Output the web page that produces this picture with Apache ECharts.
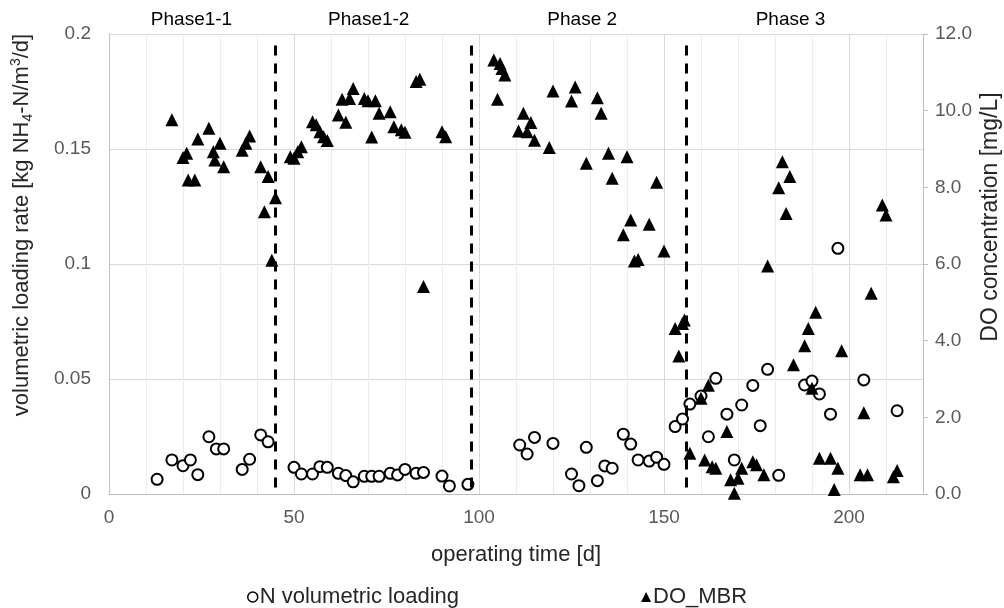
<!DOCTYPE html>
<html>
<head>
<meta charset="utf-8">
<script src="https://cdn.jsdelivr.net/npm/echarts@6/dist/echarts.min.js"></script>
<style>
html,body{margin:0;padding:0;background:#fff;}
#c{width:1004px;height:608px;}
</style>
</head>
<body>
<div id="c"></div>
<script>
// ---- data ----
const loadDays = [13,17,20,22,24,27,29,31,36,38,41,43,50,52,55,57,59,62,64,66,69,71,73,76,78,80,83,85,90,92,97,
  111,113,115,120,125,127,129,132,134,136,139,141,143,146,148,150,153,155,157,160,162,164,167,169,171,174,176,178,181,188,190,192,195,197,204,213];
const loadValues = [0.0064,0.0148,0.0123,0.0148,0.0084,0.0249,0.0196,0.0196,0.0107,0.0151,0.0257,0.0227,0.0116,0.0087,0.0087,0.0119,0.0116,0.0090,0.0080,0.0053,0.0077,0.0077,0.0077,0.0090,0.0083,0.0107,0.0090,0.0094,0.0078,0.0035,0.0042,
  0.0213,0.0174,0.0246,0.0220,0.0087,0.0036,0.0203,0.0058,0.0122,0.0112,0.0260,0.0217,0.0148,0.0143,0.0160,0.0129,0.0293,0.0326,0.0391,0.0426,0.0249,0.0503,0.0347,0.0148,0.0387,0.0472,0.0297,0.0542,0.0081,0.0474,0.0491,0.0435,0.0347,0.1068,0.0496,0.0362];
const doDays = [17,20,21,21.4,23.2,24,27,28.2,28.6,30,31,36,37,38,41,42,43,44,45,49,50,51,52,55,56,57,58,59,62,63,64,65,66,69,70,71,72,73,76,77,79,80,83,84,85,90,91,
  104,105,105.7,106.2,107,110.7,112,113,114,115,119,120,125,126,129,132,133,135,136,139,140,141,142,143,146,148,150,153,154,155,155.5,
  157,160,161,162,163,164,167,168,169,170,171,174,175,177,178,181,182,183,184,185,188,189,190,191,192,195,196,197,198,203,204,205,206,209,210,212,213];
const doValues = [9.76,8.78,8.89,8.19,8.19,9.26,9.54,8.93,8.71,9.15,8.54,8.97,9.15,9.34,8.54,7.36,8.28,6.10,7.73,8.80,8.76,8.93,9.06,9.71,9.63,9.45,9.32,9.22,9.89,10.30,9.70,10.32,10.58,10.32,10.26,9.31,10.26,9.93,9.97,9.58,9.50,9.44,10.76,10.82,5.41,9.45,9.32,
  11.32,10.30,11.23,11.10,10.93,9.47,9.93,9.45,9.69,9.23,9.04,10.51,10.25,10.62,8.63,10.34,9.93,8.89,8.24,6.76,8.80,7.15,6.08,6.12,7.04,8.13,6.34,4.32,3.60,4.45,4.54,
  1.06,2.50,0.89,2.84,0.71,0.67,1.63,0.37,0.02,0.41,0.67,0.84,0.76,0.50,5.95,7.99,8.67,7.32,8.28,3.37,3.87,4.32,2.76,4.74,0.93,0.93,0.12,0.67,3.74,0.50,2.12,0.50,5.24,7.54,7.28,0.45,0.61];
const phaseDividers = [45, 98, 156];
const phaseNames = ['Phase1-1', 'Phase1-2', 'Phase 2', 'Phase 3'];
const phaseCenters = [22.3, 70.2, 127.9, 184.2];
const xTicks = [0, 50, 100, 150, 200];
const seriesNames = ['N volumetric loading', 'DO_MBR'];

// ---- chart ----
const FONT = 'Liberation Sans';
const chart = echarts.init(document.getElementById('c'), null, {renderer: 'canvas'});
const zip = (a, b) => a.map((v, i) => [v, b[i]]);

const option = {
  animation: false,
  backgroundColor: '#fff',
  textStyle: {fontFamily: FONT},
  grid: {left: 109, right: 81, top: 34, bottom: 114, containLabel: false},
  legend: {
    left: 242, top: 581, itemGap: 182, itemWidth: 10, itemHeight: 10,
    textStyle: {fontFamily: FONT, fontSize: 22, color: '#262626', padding: [0, 0, 0, -3]},
    data: [
      {name: seriesNames[0], icon: 'circle', itemStyle: {color: '#fff', borderColor: '#000', borderWidth: 1.5}},
      {name: seriesNames[1], icon: 'triangle', itemStyle: {color: '#000'}}
    ]
  },
  xAxis: {
    type: 'value', min: 0, max: 220, interval: 10,
    name: 'operating time [d]', nameLocation: 'middle', nameGap: 50,
    nameTextStyle: {fontFamily: FONT, fontSize: 22, color: '#262626'},
    axisLine: {show: true, lineStyle: {color: '#bfbfbf', width: 1}},
    axisTick: {show: false},
    axisLabel: {
      fontFamily: FONT, fontSize: 19, color: '#595959', margin: 14,
      formatter: v => xTicks.indexOf(v) >= 0 ? String(v) : ''
    },
    splitLine: {show: true, lineStyle: {color: ['#d9d9d9', '#ededed', '#ededed', '#ededed', '#ededed'], width: 1}}
  },
  yAxis: [
    {
      type: 'value', min: 0, max: 0.2, interval: 0.05, position: 'left',
      axisLine: {show: true, lineStyle: {color: '#bfbfbf'}},
      axisTick: {show: false},
      axisLabel: {fontFamily: FONT, fontSize: 19, color: '#595959', margin: 18},
      splitLine: {show: true, lineStyle: {color: '#d9d9d9', width: 1}}
    },
    {
      type: 'value', min: 0, max: 12, interval: 2, position: 'right',
      axisLine: {show: true, lineStyle: {color: '#bfbfbf'}},
      axisTick: {show: true, inside: false, length: 5, lineStyle: {color: '#bfbfbf'}},
      axisLabel: {fontFamily: FONT, fontSize: 19, color: '#595959', margin: 12, formatter: v => v.toFixed(1)},
      splitLine: {show: false}
    }
  ],
  series: [
    {
      name: seriesNames[0], type: 'scatter', yAxisIndex: 0,
      symbol: 'circle', symbolSize: 11,
      itemStyle: {color: '#fff', borderColor: '#000', borderWidth: 2, opacity: 1},
      data: zip(loadDays, loadValues),
      z: 3,
      markLine: {
        silent: true, symbol: ['none', 'none'],
        label: {show: false},
        lineStyle: {color: '#000', width: 3, type: [10, 8]},
        data: phaseDividers.map(d => [{coord: [d, 0.195]}, {coord: [d, 0]}])
      }
    },
    {
      name: seriesNames[1], type: 'scatter', yAxisIndex: 1,
      symbol: 'triangle', symbolSize: 13,
      itemStyle: {color: '#000', opacity: 1},
      data: zip(doDays, doValues),
      z: 4
    }
  ]
};
chart.setOption(option);

// phase labels and axis titles as text placed via the chart's scales
const titleY = chart.convertToPixel({gridIndex: 0}, [0, 0])[1];
const graphics = phaseNames.map((n, i) => {
  const p = chart.convertToPixel({xAxisIndex: 0, yAxisIndex: 0}, [phaseCenters[i], 0.2]);
  return {
    type: 'text', x: p[0], y: p[1] - 14,
    style: {text: n, align: 'center', verticalAlign: 'middle', fontFamily: FONT, fontSize: 19, fill: '#000'}
  };
});
graphics.push({
  type: 'text', x: 22, y: 225, rotation: Math.PI / 2,
  style: {
    text: '{a|volumetric loading rate [kg NH}{s|4}{a|-N/m}{u|3}{a|/d]}',
    align: 'center', verticalAlign: 'middle',
    rich: {
      a: {fontFamily: FONT, fontSize: 22, fill: '#262626', lineHeight: 26},
      s: {fontFamily: FONT, fontSize: 14, fill: '#262626', lineHeight: 26, verticalAlign: 'bottom', padding: [8, 0, 0, 0]},
      u: {fontFamily: FONT, fontSize: 14, fill: '#262626', lineHeight: 26, verticalAlign: 'top', padding: [0, 0, 8, 0]}
    }
  }
});
graphics.push({
  type: 'text', x: 991, y: 217, rotation: Math.PI / 2,
  style: {text: 'DO concentration [mg/L]', align: 'center', verticalAlign: 'middle', fontFamily: FONT, fontSize: 23, fill: '#262626'}
});
chart.setOption({graphic: graphics});
</script>
</body>
</html>
